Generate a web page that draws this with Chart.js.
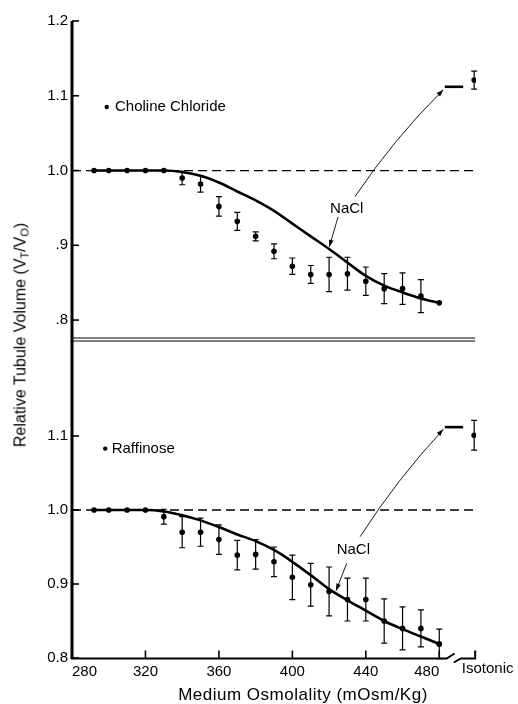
<!DOCTYPE html>
<html>
<head>
<meta charset="utf-8">
<script src="https://cdn.jsdelivr.net/npm/chart.js@4.4.1/dist/chart.umd.min.js"></script>
<style>
  html, body { margin: 0; padding: 0; background: #fff; }
  #wrap { position: relative; width: 518px; height: 704px; overflow: hidden;
          font-family: "Liberation Sans", Arial, sans-serif; color: #000; }
  #cTop { position: absolute; left: 0; top: 0; }
  #cBot { position: absolute; left: 0; top: 321px; }
  #ytitle { position: absolute; left: 21px; top: 335px; white-space: nowrap; font-size: 16px;
            transform: translate(-50%, -50%) rotate(-90deg); }
  #ytitle sub { font-size: 11px; vertical-align: -3px; }
</style>
</head>
<body>
<div id="wrap">
  <canvas id="cTop" width="518" height="361"></canvas>
  <canvas id="cBot" width="518" height="383"></canvas>
  <div id="ytitle">Relative Tubule Volume (V<sub>T</sub>/V<sub>O</sub>)</div>
</div>
<script>
// ── data ──
const OSM       = [292, 300, 310, 320, 330, 340, 350, 360, 370, 380, 390, 400, 410, 420, 430, 440, 450, 460, 470, 480];
const ISO_X     = 499;           // position of the "Isotonic" column on the x scale
const X_TICKS   = [280, 320, 360, 400, 440, 480];
const X_BREAK   = [484, 489];

// top panel: choline chloride (points up to 470) + NaCl fitted curve
const cholineY   = [1, 1, 1, 1, 1, 0.990, 0.982, 0.952, 0.932, 0.912, 0.892, 0.872, 0.861, 0.861, 0.862, 0.852, 0.842, 0.842, 0.832];
const cholineErr = [0, 0, 0, 0, 0, 0.009, 0.011, 0.013, 0.012, 0.006, 0.010, 0.011, 0.012, 0.023, 0.022, 0.019, 0.020, 0.021, 0.022];
const naclTopY   = [1, 1, 1, 1, 1, 0.998, 0.993, 0.984, 0.972, 0.960, 0.946, 0.929, 0.912, 0.895, 0.877, 0.859, 0.846, 0.837, 0.829, 0.823];
const cholineIso = 1.121, cholineIsoErr = 0.012;
const naclIsoTop = 1.112;

// bottom panel: raffinose + NaCl fitted curve
const raffY    = [1, 1, 1, 1, 0.991, 0.970, 0.970, 0.960, 0.939, 0.940, 0.930, 0.909, 0.899, 0.890, 0.879, 0.879, 0.850, 0.840, 0.840, 0.819];
const raffErr  = [0, 0, 0, 0, 0.010, 0.021, 0.019, 0.020, 0.020, 0.020, 0.020, 0.030, 0.029, 0.033, 0.029, 0.029, 0.030, 0.029, 0.025, 0.020];
const naclBotY = [1, 1, 1, 1, 0.998, 0.993, 0.986, 0.977, 0.967, 0.958, 0.946, 0.930, 0.912, 0.893, 0.878, 0.864, 0.850, 0.839, 0.829, 0.819];
const raffIso = 1.101, raffIsoErr = 0.020;
const naclIsoBot = 1.112;
const NACL_ISO_SPAN = [483, 493];

const TOP_TICKS  = [0.8, 0.9, 1.0, 1.1, 1.2];
const TOP_LABELS = ['.8', '.9', '1.0', '1.1', '1.2'];
const BOT_TICKS  = [0.8, 0.9, 1.0, 1.1];
const BOT_LABELS = ['0.8', '0.9', '1.0', '1.1'];

// ── style ──
const INK  = '#000';
const FONT = '"Liberation Sans", Arial, sans-serif';
Chart.defaults.font.family = FONT;
Chart.defaults.color = INK;

const pts = (xs, ys) => ys.map((y, i) => ({ x: xs[i], y }));

// error bars drawn from dataset.errorBars through the y scale
const errorBarPlugin = {
  id: 'errorBars',
  afterDatasetsDraw(chart) {
    const ctx = chart.ctx;
    chart.data.datasets.forEach((ds, i) => {
      if (!ds.errorBars) return;
      const meta = chart.getDatasetMeta(i);
      const ys = chart.scales[meta.yAxisID];
      ctx.save();
      ctx.strokeStyle = INK;
      ctx.lineWidth = 1.2;
      meta.data.forEach((p, j) => {
        const e = ds.errorBars[j];
        if (!e) return;
        const v = ds.data[j].y;
        const y1 = ys.getPixelForValue(v + e), y2 = ys.getPixelForValue(v - e);
        ctx.beginPath();
        ctx.moveTo(p.x, y1); ctx.lineTo(p.x, y2);
        ctx.moveTo(p.x - 3, y1); ctx.lineTo(p.x + 3, y1);
        ctx.moveTo(p.x - 3, y2); ctx.lineTo(p.x + 3, y2);
        ctx.stroke();
      });
      ctx.restore();
    });
  }
};

function arrow(ctx, x0, y0, x1, y1, bend) {
  const mx = (x0 + x1) / 2, my = (y0 + y1) / 2;
  const dx = x1 - x0, dy = y1 - y0, len = Math.hypot(dx, dy);
  const cx = mx + (-dy / len) * bend, cy = my + (dx / len) * bend;
  ctx.beginPath();
  ctx.moveTo(x0, y0);
  ctx.quadraticCurveTo(cx, cy, x1, y1);
  ctx.stroke();
  const a = Math.atan2(y1 - cy, x1 - cx), h = 7, w = 2.4;
  ctx.beginPath();
  ctx.moveTo(x1, y1);
  ctx.lineTo(x1 - h * Math.cos(a) + w * Math.sin(a), y1 - h * Math.sin(a) - w * Math.cos(a));
  ctx.lineTo(x1 - h * Math.cos(a) - w * Math.sin(a), y1 - h * Math.sin(a) + w * Math.cos(a));
  ctx.closePath();
  ctx.fill();
}

// axis line, inside ticks, labels, arrows and other panel furniture
const decorPlugin = {
  id: 'decor',
  afterDraw(chart, args, o) {
    const ctx = chart.ctx, xs = chart.scales.x, ys = chart.scales.y;
    const area = chart.chartArea;
    const left = area.left, bottom = area.bottom;
    const px = v => xs.getPixelForValue(v), py = v => ys.getPixelForValue(v);
    ctx.save();
    ctx.strokeStyle = INK; ctx.fillStyle = INK;

    // y axis line, 3 px wide
    ctx.fillStyle = '#000000';
    ctx.fillRect(left - 1.5, area.top, 3, bottom - area.top + 1);
    ctx.fillStyle = INK;

    // y ticks pointing into the plot
    ctx.lineWidth = 1.6;
    o.yTicks.forEach(v => {
      ctx.beginPath(); ctx.moveTo(left, py(v)); ctx.lineTo(left + 7, py(v)); ctx.stroke();
    });

    // legend label
    ctx.beginPath(); ctx.arc(px(o.legend.x), py(o.legend.y), 2.2, 0, Math.PI * 2); ctx.fill();
    ctx.font = '15px ' + FONT; ctx.textBaseline = 'middle'; ctx.textAlign = 'left';
    ctx.fillText(o.legend.text, px(o.legend.tx), py(o.legend.y));

    // NaCl label + arrows
    ctx.textAlign = 'center';
    ctx.fillText('NaCl', px(o.nacl.x), py(o.nacl.y));
    ctx.lineWidth = 0.9;
    o.arrows.forEach(a => arrow(ctx, px(a[0]), py(a[1]), px(a[2]), py(a[3]), a[4]));

    if (o.separator) {
      ctx.lineWidth = 1.2;
      [bottom - 3, bottom].forEach(y => {
        ctx.beginPath(); ctx.moveTo(left, y); ctx.lineTo(px(ISO_X + 0.5), y); ctx.stroke();
      });
    }

    if (o.xAxis) {
      const b = bottom + 0.5;
      ctx.lineWidth = 2;
      ctx.beginPath();
      ctx.moveTo(left - 1, b); ctx.lineTo(px(X_BREAK[0]), b); ctx.lineTo(px(X_BREAK[0]) + 8, b - 5);
      ctx.moveTo(px(X_BREAK[1]) - 2, b + 4); ctx.lineTo(px(X_BREAK[1]) + 5, b);
      ctx.lineTo(px(ISO_X) + 1, b); ctx.lineTo(px(ISO_X) + 1, b - 8);
      ctx.stroke();
      ctx.lineWidth = 1.6;
      X_TICKS.slice(1).forEach(v => {
        ctx.beginPath(); ctx.moveTo(px(v), b); ctx.lineTo(px(v), b - 8); ctx.stroke();
      });
      ctx.textAlign = 'left'; ctx.textBaseline = 'middle';
      ctx.fillText('Isotonic', px(X_BREAK[1]) + 6, bottom + 11);
      ctx.textAlign = 'center';
      ctx.font = '17px ' + FONT;
      if ('letterSpacing' in ctx) ctx.letterSpacing = '0.5px';
      ctx.fillText('Medium Osmolality (mOsm/Kg)', 303, chart.height - 9);
    }
    ctx.restore();
  }
};

function yScale(min, max, ticks, labels) {
  return {
    type: 'linear', min, max,
    afterFit: s => { s.width = 72; },
    afterBuildTicks: s => { s.ticks = ticks.map(v => ({ value: v })); },
    grid: { display: false, drawTicks: false },
    border: { display: false },
    ticks: { color: INK, padding: 4, font: { size: 15 }, callback: (v, i) => labels[i] }
  };
}

function panelDatasets(curveY, markY, markErr, isoY, isoErr, naclIso) {
  return [
    { data: [{ x: 280, y: 1 }, { x: ISO_X + 0.5, y: 1 }], borderColor: INK, borderWidth: 1.3,
      borderDash: [9, 5], pointRadius: 0 },
    { data: pts(OSM, curveY), borderColor: INK, borderWidth: 2.6, cubicInterpolationMode: 'monotone',
      pointRadius: OSM.map((x, i) => i === OSM.length - 1 ? 2.8 : 0),
      pointBackgroundColor: INK, pointBorderWidth: 0 },
    { data: pts(OSM, markY), showLine: false, pointRadius: 2.8, pointBackgroundColor: INK,
      pointBorderWidth: 0, errorBars: markErr },
    { data: [{ x: ISO_X, y: isoY }], showLine: false, pointRadius: 2.8, pointBackgroundColor: INK,
      pointBorderWidth: 0, errorBars: [isoErr] },
    { data: NACL_ISO_SPAN.map(x => ({ x, y: naclIso })), borderColor: INK, borderWidth: 2.6, pointRadius: 0 }
  ];
}

const baseOpts = {
  responsive: false,
  animation: false,
  plugins: { legend: { display: false }, tooltip: { enabled: false } }
};

// top panel
new Chart(document.getElementById('cTop'), {
  type: 'line',
  data: { datasets: panelDatasets(naclTopY, cholineY, cholineErr, cholineIso, cholineIsoErr, naclIsoTop) },
  options: {
    ...baseOpts,
    layout: { padding: { left: 0, right: 42, top: 21, bottom: 20 } },
    scales: {
      x: { type: 'linear', min: 280, max: 500, display: false },
      y: yScale(0.772, 1.2, TOP_TICKS, TOP_LABELS)
    },
    plugins: {
      ...baseOpts.plugins,
      decor: {
        yTicks: TOP_TICKS,
        legend: { x: 298.9, tx: 303.4, y: 1.085, text: 'Choline Chloride' },
        nacl: { x: 429.6, y: 0.949 },
        arrows: [[434.1, 0.965, 482.2, 1.108, -7], [424.9, 0.938, 420.1, 0.898, 0]],
        separator: true
      }
    }
  },
  plugins: [errorBarPlugin, decorPlugin]
});

// bottom panel
new Chart(document.getElementById('cBot'), {
  type: 'line',
  data: { datasets: panelDatasets(naclBotY, raffY, raffErr, raffIso, raffIsoErr, naclIsoBot) },
  options: {
    ...baseOpts,
    layout: { padding: { left: 0, right: 42, top: 20, bottom: 0 } },
    scales: {
      x: {
        type: 'linear', min: 280, max: 500,
        afterFit: s => { s.height = 46; },
        afterBuildTicks: s => { s.ticks = X_TICKS.map(v => ({ value: v })); },
        grid: { display: false, drawTicks: false },
        border: { display: false },
        ticks: { color: INK, padding: 5, font: { size: 15 }, maxRotation: 0, align: 'inner' }
      },
      y: yScale(0.8, 1.2284, BOT_TICKS, BOT_LABELS)
    },
    plugins: {
      ...baseOpts.plugins,
      decor: {
        yTicks: BOT_TICKS,
        legend: { x: 298.1, tx: 301.6, y: 1.083, text: 'Raffinose' },
        nacl: { x: 433.2, y: 0.946 },
        arrows: [[436.9, 0.964, 482.2, 1.109, -6], [429.6, 0.928, 423.8, 0.891, 0]],
        xAxis: true
      }
    }
  },
  plugins: [errorBarPlugin, decorPlugin]
});
</script>
</body>
</html>
